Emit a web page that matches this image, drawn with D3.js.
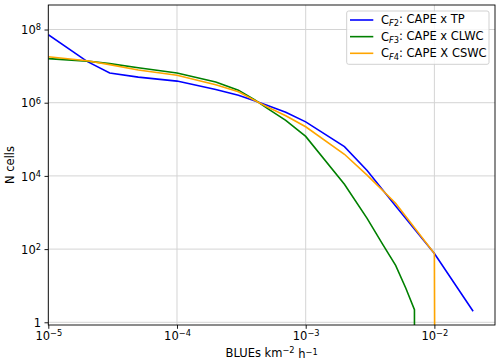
<!DOCTYPE html>
<html>
<head>
<meta charset="utf-8">
<script src="https://cdnjs.cloudflare.com/ajax/libs/d3/7.8.5/d3.min.js"></script>
<style>
    body { margin: 0; background: #fff; }
    text { font-family: "DejaVu Sans", sans-serif; fill: #000; }
</style>
</head>
<body>
<div id="chart"></div>
<script>

    // BLUE rate bins (x) and cell counts for the three combinations
    var blueRate = [1e-5, 2e-5, 3e-5, 5e-5, 1e-4, 2e-4, 3e-4, 4e-4, 5e-4, 7e-4, 1e-3, 2e-3, 3e-3, 4e-3, 5e-3, 6e-3, 7e-3, 8e-3, 1e-2, 2e-2];
    var cellsF2 = [7.2e7, 1.35e7, 6.5e6, 5.0e6, 3.9e6, 2.3e6, 1.6e6, 1.14e6, 8.55e5, 5.5e5, 3.0e5, 6.3e4, 1.4e4, null, 1.5e3, null, null, null, 76, 2];
    var cellsF3 = [1.6e7, 1.37e7, 1.17e7, 9.0e6, 6.5e6, 3.7e6, 2.2e6, 1.21e6, 7.1e5, 3.3e5, 1.2e5, 5.9e3, 690, 128, 36, 8.5, 2.2, 0, null, null];
    var cellsF4 = [1.8e7, 1.4e7, 1.1e7, 7.8e6, 5.6e6, 3.1e6, 2.0e6, 1.17e6, 7.8e5, 4.4e5, 2.2e5, 3.9e4, 1.05e4, null, 1.8e3, null, null, null, 76, 0];

    var seriesNames = [["F2", ": CAPE x TP"], ["F3", ": CAPE x CLWC"], ["F4", ": CAPE X CSWC"]];
    var seriesColors = ["blue", "green", "orange"];
    var xMajor = [1e-5, 1e-4, 1e-3, 1e-2];
    var yMajor = [1, 1e2, 1e4, 1e6, 1e8];

    var width = 500, height = 364;
    var pL = 48.3, pR = 495, pT = 5, pB = 325;
    var fs = 11.5;

    var svg = d3.select("#chart").append("svg").attr("width", width).attr("height", height);

    var x = d3.scaleLog().domain([1e-5, Math.pow(10, -1.529)]).range([pL, pR]);
    var y = d3.scaleLog().domain([Math.pow(10, -0.074), Math.pow(10, 8.67)]).range([pB, pT]);

    svg.append("clipPath").attr("id", "plot-clip")
        .append("rect").attr("x", pL).attr("y", pT).attr("width", pR - pL).attr("height", pB - pT);

    // grid
    svg.append("g").selectAll("line").data(xMajor).enter().append("line")
        .attr("x1", function (d) { return x(d); }).attr("x2", function (d) { return x(d); })
        .attr("y1", pT).attr("y2", pB)
        .attr("stroke", "#d4d4d4").attr("stroke-width", 1);
    svg.append("g").selectAll("line").data(yMajor).enter().append("line")
        .attr("y1", function (d) { return y(d); }).attr("y2", function (d) { return y(d); })
        .attr("x1", pL).attr("x2", pR)
        .attr("stroke", "#d4d4d4").attr("stroke-width", 1);

    // lines (zeros are pushed far below the axis, like matplotlib clipping)
    var line = d3.line()
        .x(function (d) { return x(d[0]); })
        .y(function (d) { return y(d[1] > 0 ? d[1] : 1e-300); });

    var allSeries = [cellsF2, cellsF3, cellsF4];
    var plot = svg.append("g").attr("clip-path", "url(#plot-clip)");
    allSeries.forEach(function (vals, i) {
        var pts = blueRate.map(function (r, j) { return [r, vals[j]]; })
            .filter(function (p) { return p[1] !== null; });
        plot.append("path").datum(pts)
            .attr("d", line)
            .attr("fill", "none")
            .attr("stroke", seriesColors[i])
            .attr("stroke-width", 1.6);
    });

    // exponent labels like 10^-3
    function powLabel(sel, d) {
        var e = Math.round(Math.log10(d));
        sel.text(null);
        if (e === 0) { sel.text("1"); return; }
        sel.append("tspan").text("10");
        sel.append("tspan").attr("dy", "-0.45em").attr("font-size", "0.72em")
            .text(e < 0 ? "\u2212" + (-e) : e);
    }

    // x axis
    var xMinor = [];
    for (var p = -5; p <= -2; p++) {
        for (var k = 2; k <= 9; k++) {
            var v = k * Math.pow(10, p);
            if (v < x.domain()[1]) xMinor.push(v);
        }
    }
    var gx = svg.append("g").attr("transform", "translate(0," + pB + ")");
    gx.call(d3.axisBottom(x).tickValues(xMinor).tickSize(2.2).tickFormat(""));
    gx.call(d3.axisBottom(x).tickValues(xMajor).tickSize(3.8).tickPadding(3.2));
    gx.selectAll(".tick text").attr("font-size", fs).attr("font-family", "DejaVu Sans")
        .each(function (d) { powLabel(d3.select(this), d); });

    // y axis
    var gy = svg.append("g").attr("transform", "translate(" + pL + ",0)");
    gy.call(d3.axisLeft(y).tickValues(yMajor).tickSize(3.8).tickPadding(3.5));
    gy.selectAll(".tick text").attr("font-size", fs).attr("font-family", "DejaVu Sans")
        .attr("dy", "0.36em")
        .each(function (d) { powLabel(d3.select(this), d); });

    svg.selectAll(".domain").remove();
    svg.selectAll(".tick line").attr("stroke", "#000").attr("stroke-width", 0.9);

    // frame
    svg.append("rect").attr("x", pL).attr("y", pT).attr("width", pR - pL).attr("height", pB - pT)
        .attr("fill", "none").attr("stroke", "#000").attr("stroke-width", 0.9);

    // axis labels
    var xl = svg.append("text").attr("x", (pL + pR) / 2).attr("y", 357)
        .attr("text-anchor", "middle").attr("font-size", fs);
    xl.append("tspan").text("BLUEs km");
    xl.append("tspan").attr("dy", "-0.45em").attr("font-size", "0.72em").text("\u22122");
    xl.append("tspan").attr("dy", "0.45em").text(" h");
    xl.append("tspan").attr("dy", "-0.45em").attr("font-size", "0.72em").text("\u22121");

    svg.append("text").attr("transform", "translate(14," + (pT + pB) / 2 + ") rotate(-90)")
        .attr("text-anchor", "middle").attr("font-size", fs).text("N cells");

    // legend
    var lg = svg.append("g");
    lg.append("rect").attr("x", 346.7).attr("y", 11).attr("width", 142.3).attr("height", 53.3)
        .attr("rx", 2).attr("fill", "#fff").attr("fill-opacity", 0.8)
        .attr("stroke", "#cccccc").attr("stroke-width", 0.9);
    seriesNames.forEach(function (s, i) {
        var cy = 20 + i * 16.65;
        lg.append("line").attr("x1", 350).attr("x2", 373.3).attr("y1", cy).attr("y2", cy)
            .attr("stroke", seriesColors[i]).attr("stroke-width", 1.6);
        var t = lg.append("text").attr("x", 381).attr("y", cy).attr("dy", "0.36em").attr("font-size", fs);
        t.append("tspan").text("C");
        t.append("tspan").attr("dy", "0.25em").attr("font-size", "0.72em").attr("font-style", "italic").text(s[0].charAt(0));
        t.append("tspan").attr("font-size", "0.72em").text(s[0].charAt(1));
        t.append("tspan").attr("dy", "-0.25em").text(s[1]);
    });

</script>
</body>
</html>
